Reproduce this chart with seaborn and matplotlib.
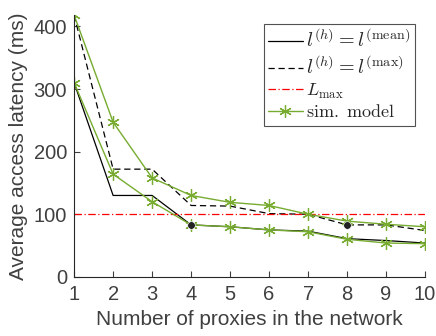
import numpy as np
import pandas as pd
import matplotlib
matplotlib.use("Agg")
import matplotlib.pyplot as plt
import seaborn as sns

# number of proxies
proxies = [1, 2, 3, 4, 5, 6, 7, 8, 9, 10]

# analytical model, l^(h) = l^(mean)
lat_mean = [310, 130, 130, 83, 80, 75, 73, 61, 58, 54]
# analytical model, l^(h) = l^(max)
lat_max = [418, 172, 172, 114, 113, 101, 100, 83, 83, 74]
# simulation results
sim_upper = [418, 247, 158, 130, 119, 114, 100, 89, 84, 80]
sim_lower = [310, 164, 120, 83, 80, 75, 72, 60, 54, 53]
# latency constraint
l_max = 100
# highlighted points
dot_x = [4, 8]
dot_y = [83, 83]

sns.set_theme(style="white")
plt.rcParams['font.family'] = ['Liberation Sans', 'DejaVu Sans']
plt.rcParams['mathtext.fontset'] = 'cm'

green = '#77AC30'
grey = '#404040'
star = (6, 2, 0)  # asterisk marker

fig = plt.figure(figsize=(4.36, 3.36), dpi=100)
ax = fig.add_axes([0.17, 0.176, 0.805, 0.779])

sns.lineplot(x=proxies, y=lat_mean, color='black', lw=0.9, ax=ax,
             label=r'$l^{(h)} = l^{(\mathrm{mean})}$')
sns.lineplot(x=proxies, y=lat_max, color='black', lw=0.9, ls=(0, (5, 3)), ax=ax,
             label=r'$l^{(h)} = l^{(\max)}$')
ax.axhline(l_max, color='#FF0000', lw=0.9, ls=(0, (6, 2, 1, 2)), label=r'$L_{\max}$')
sns.lineplot(x=proxies, y=sim_upper, color=green, lw=1.0, marker=star, ms=9,
             mec=green, mew=0.9, ax=ax, label=r'$\mathrm{sim.\ model}$')
sns.lineplot(x=proxies, y=sim_lower, color=green, lw=1.0, marker=star, ms=9,
             mec=green, mew=0.9, ax=ax, legend=False)
sns.scatterplot(x=dot_x, y=dot_y, color='#222222', s=30, zorder=5, ax=ax, legend=False)

ax.set_xlim(1, 10)
ax.set_ylim(0, 418)
ax.set_xticks(proxies)
ax.set_yticks([0, 100, 200, 300, 400])
ax.set_xlabel('Number of proxies in the network', fontsize=15, color=grey, labelpad=4)
ax.set_ylabel('Average access latency (ms)', fontsize=15, color=grey, labelpad=4)
ax.tick_params(axis='both', labelsize=14.5, colors=grey, direction='in',
               length=4, width=0.8, bottom=True, left=True)
ax.tick_params(axis='x', pad=6)
ax.tick_params(axis='y', pad=5)
for s in ['top', 'right']:
    ax.spines[s].set_visible(False)
for s in ['left', 'bottom']:
    ax.spines[s].set_color('#262626')
    ax.spines[s].set_linewidth(0.8)

leg = ax.legend(loc='upper right', bbox_to_anchor=(0.971, 0.966), fontsize=13,
                frameon=True, fancybox=False, handlelength=1.9, handletextpad=0.2,
                borderpad=0.25, labelspacing=0.2, borderaxespad=0)
for t in leg.get_texts()[:2]:
    t.set_fontsize(14.5)
leg.get_frame().set_edgecolor('#262626')
leg.get_frame().set_linewidth(0.8)

fig.savefig('out.png', dpi=100)
